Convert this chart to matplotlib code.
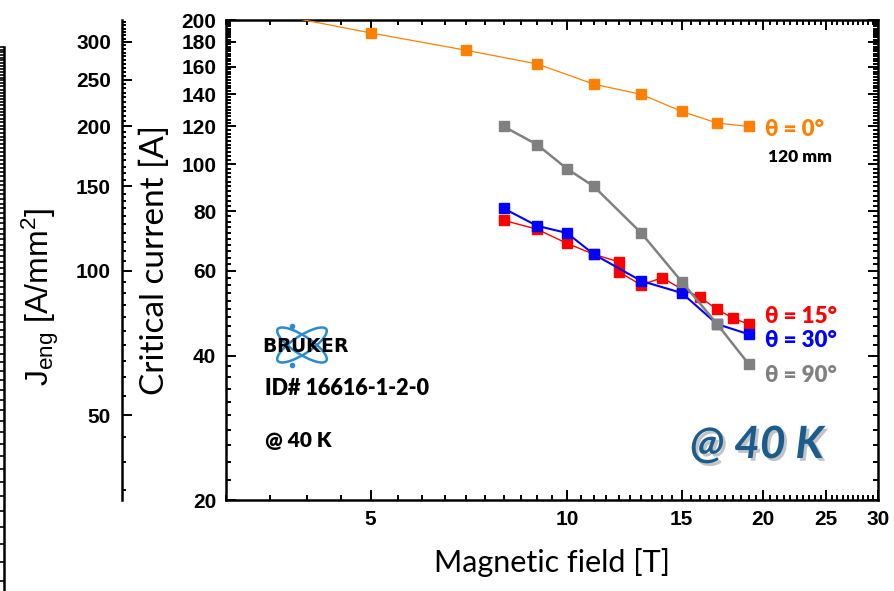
import matplotlib
matplotlib.use('Agg')
import matplotlib.pyplot as plt
import matplotlib.patheffects as pe
from matplotlib.patches import Ellipse
from matplotlib.ticker import MultipleLocator, NullFormatter
import numpy as np

plt.rcParams['font.family'] = ['Liberation Sans', 'DejaVu Sans']
plt.rcParams['mathtext.fontset'] = 'custom'
plt.rcParams['mathtext.rm'] = 'Liberation Sans'
plt.rcParams['mathtext.it'] = 'Liberation Sans:italic'

# data (field in T, critical current in A)
B_0 = [3, 5, 7, 9, 11, 13, 15, 17, 19]
I_0 = [215, 188, 173, 162, 147, 140, 129, 122, 120]

B_15 = [8, 9, 10, 11, 12, 12, 13, 14, 15, 16, 17, 18, 19]
I_15 = [76.5, 73.3, 68.5, 65, 62.7, 59.8, 56.1, 58.1, 55, 52.9, 49.9, 47.8, 46.5]

B_30 = [8, 9, 10, 11, 13, 15, 17, 19]
I_30 = [81, 74.5, 72, 65, 57.2, 54, 46.5, 44.3]

B_90 = [8, 9, 10, 11, 13, 15, 17, 19]
I_90 = [120, 110, 98, 90, 72, 57, 46.5, 38.4]

x_ticks = [5, 10, 15, 20, 25, 30]
y_ticks = [20, 40, 60, 80, 100, 120, 140, 160, 180, 200]
j_ticks = [50, 100, 150, 200, 250, 300]
area = 0.6  # mm^2, J_eng = I / area

calibri = ['Lato', 'Noto Sans', 'DejaVu Sans']

fig = plt.figure(figsize=(8.94, 5.91), dpi=100)
ax = fig.add_axes([226 / 894, 1 - 500 / 591, 652 / 894, 480 / 591])

ax.plot(B_0, I_0, '-s', color='#FF8000', lw=0.9, ms=7, mec='#FF8000', zorder=3)
ax.plot(B_15, I_15, '-s', color='#FF0000', lw=1.0, ms=7, zorder=4)
ax.plot(B_30, I_30, '-s', color='#0000FF', lw=1.5, ms=7.5, zorder=5)
ax.plot(B_90, I_90, '-s', color='#808080', lw=1.8, ms=7.5, zorder=6)

ax.set_xscale('log')
ax.set_yscale('log')
ax.set_xlim(3, 30)
ax.set_ylim(20, 200)
ax.set_xticks(x_ticks, labels=[str(v) for v in x_ticks])
ax.set_yticks(y_ticks, labels=[str(v) for v in y_ticks])
ax.xaxis.set_minor_locator(MultipleLocator(0.5))
ax.yaxis.set_minor_locator(MultipleLocator(2))
ax.xaxis.set_minor_formatter(NullFormatter())
ax.yaxis.set_minor_formatter(NullFormatter())
ax.tick_params(which='both', direction='in', top=True, right=True, width=1.4)
ax.tick_params(which='major', length=7, labelsize=15, pad=7)
ax.tick_params(which='minor', length=3.5)
for lab in ax.get_xticklabels() + ax.get_yticklabels():
    lab.set_fontweight('bold')
for s in ax.spines.values():
    s.set_linewidth(1.8)

ax.set_xlabel('Magnetic field [T]', fontsize=22, family=calibri, labelpad=14)
ax.set_ylabel('Critical current [A]', fontsize=24, family=calibri, labelpad=8)

# J_eng axis on the far left
sec = ax.secondary_yaxis(-104 / 652, functions=(lambda I: np.asarray(I) / area,
                                                lambda J: np.asarray(J) * area))
sec.set_yticks(j_ticks, labels=[str(v) for v in j_ticks])
sec.yaxis.set_minor_locator(MultipleLocator(5))
sec.yaxis.set_minor_formatter(NullFormatter())
sec.tick_params(which='both', direction='in', width=1.4)
sec.tick_params(which='major', length=7, labelsize=15, pad=8)
sec.tick_params(which='minor', length=3)
for lab in sec.get_yticklabels():
    lab.set_fontweight('bold')
sec.spines['left'].set_linewidth(1.8)
fig.text(40 / 894, 1 - 297 / 591, r'J$_{\rm eng}$ [A/mm$^2$]', rotation=90,
         fontsize=23, ha='center', va='center')

# edge of the neighbouring panel
ax3 = fig.add_axes([-0.02, -0.1, 0.025, 1.0205])
ax3.set_yscale('log')
ax3.set_ylim(10, 100)
ax3.yaxis.set_major_locator(MultipleLocator(1))
ax3.yaxis.set_minor_locator(MultipleLocator(1))
ax3.yaxis.set_major_formatter(NullFormatter())
ax3.set_xticks([])
ax3.patch.set_visible(False)
for k in ['left', 'top', 'bottom']:
    ax3.spines[k].set_visible(False)
ax3.spines['right'].set_linewidth(1.8)
ax3.tick_params(axis='y', left=False, right=True, labelleft=False,
                direction='in', length=4, width=1.2)

# curve labels
lab_kw = dict(transform=ax.transAxes, fontweight='heavy', family=calibri, va='center')
ax.text(0.8267, 0.771, 'θ = 0°', color='#FF8000', fontsize=16, **lab_kw)
ax.text(0.831, 0.7146, '120 mm', color='black', fontsize=12.5, **lab_kw)
ax.text(0.8267, 0.383, 'θ = 15°', color='#FF0000', fontsize=16, **lab_kw)
ax.text(0.8267, 0.333, 'θ = 30°', color='#0000FF', fontsize=16, **lab_kw)
ax.text(0.8267, 0.260, 'θ = 90°', color='#808080', fontsize=16, **lab_kw)

ax.text(0.0598, 0.2333, 'ID# 16616-1-2-0', fontsize=15.5, **lab_kw)
ax.text(0.0598, 0.125, '@ 40 K', fontsize=15, **lab_kw)
ax.text(0.7117, 0.1146, '@ 40 K', color='#1B5C8E', fontsize=32, fontweight='bold',
        style='italic', family=calibri, va='center', transform=ax.transAxes,
        path_effects=[pe.SimplePatchShadow(offset=(2, -2), shadow_rgbFace='#888888',
                                           alpha=0.5), pe.Normal()])

# Bruker logo
lg = fig.add_axes([262 / 894, 1 - 368 / 591, 86 / 894, 46 / 591])
lg.set_xlim(0, 86)
lg.set_ylim(0, 46)
lg.axis('off')
for ang in (33, -33):
    lg.add_patch(Ellipse((40, 23), 58, 18, angle=ang, fill=False,
                         ec='#2B8BD0', lw=1.8))
lg.plot([30, 30], [42.5, 3], 'o', color='#2B8BD0', ms=3)
for i, ch in enumerate('BRUKER'):
    lg.text(7.5 + 14.2 * i, 22, ch, fontsize=13.5, fontweight='heavy',
            family='DejaVu Sans', ha='center', va='center', zorder=5)

fig.savefig('out.png', dpi=100)
